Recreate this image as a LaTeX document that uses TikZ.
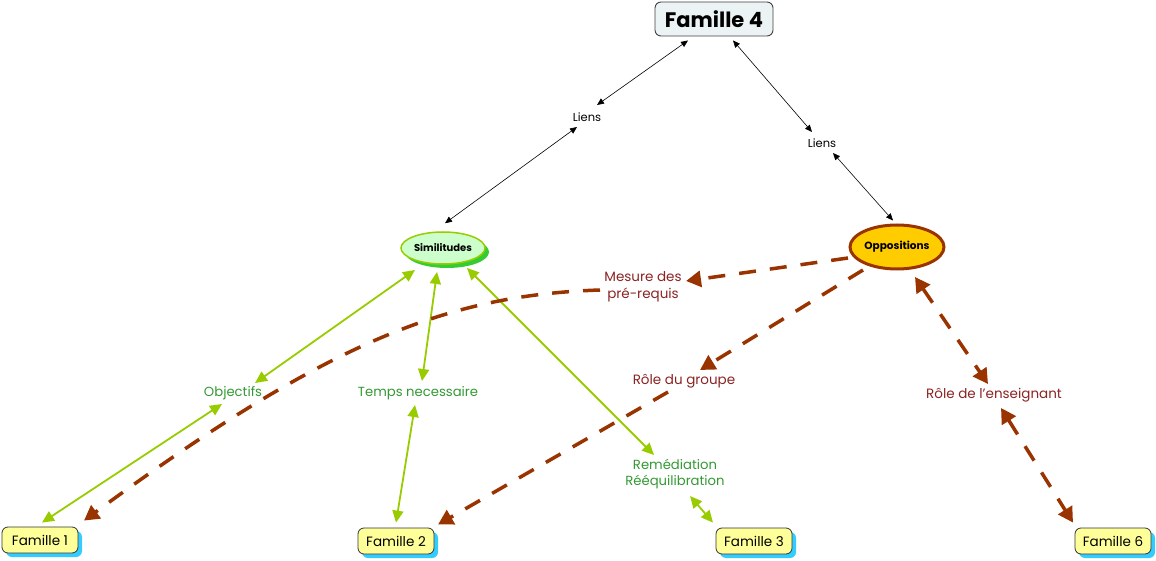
\documentclass[tikz,border=0pt]{standalone}
\usepackage{fontspec}
\setmainfont{Poppins}
\usetikzlibrary{arrows.meta,shapes.geometric,shadows,calc}
\definecolor{fgreen}{HTML}{99CC00}
\definecolor{tgreen}{HTML}{339933}
\definecolor{bline}{HTML}{993300}
\definecolor{btext}{HTML}{8B2323}
\definecolor{fyellow}{HTML}{FFFF99}
\definecolor{fshadow}{HTML}{33CCFF}
\tikzset{
  fambox/.style={draw=black!80, line width=0.8pt, rounded corners=6pt, fill=fyellow,
    minimum width=76pt, minimum height=26pt, inner sep=0pt, font=\fontsize{13.5}{15}\selectfont,
    drop shadow={shadow xshift=4pt, shadow yshift=-4pt, fill=fshadow, opacity=1}},
  lbl/.style={font=\fontsize{11.5}{13}\selectfont, inner sep=1pt},
  glbl/.style={text=tgreen, font=\fontsize{13.2}{16}\selectfont, inner sep=1pt, align=center},
  blbl/.style={text=btext, font=\fontsize{13.5}{16.5}\selectfont, inner sep=1pt, align=center},
  blk/.style={black, line width=0.6pt, {Triangle[length=7pt,width=6pt]}-{Triangle[length=7pt,width=6pt]}},
  grn/.style={fgreen, line width=1.8pt, {Triangle[length=12pt,width=11pt]}-{Triangle[length=12pt,width=11pt]}},
  brn/.style={bline, line width=3.5pt, dash pattern=on 17pt off 14pt, -{Triangle[length=15pt,width=16pt]}},
  brn2/.style={bline, line width=3.5pt, dash pattern=on 17pt off 14pt, {Triangle[length=15pt,width=16pt]}-{Triangle[length=15pt,width=16pt]}},
}
\begin{document}
\begin{tikzpicture}[x=1pt,y=-1pt]
\useasboundingbox (0,0) rectangle (1156,561);
% main nodes
\node[draw=black!75, line width=0.9pt, rounded corners=6pt, fill={rgb,255:red,236;green,243;blue,245},
  minimum width=118pt, minimum height=34pt, inner sep=0pt, font=\bfseries\fontsize{21}{24}\selectfont] (f4) at (714,19) {Famille 4};
\node[lbl] (l1) at (587,117) {Liens};
\node[lbl] (l2) at (822,143) {Liens};
\node[ellipse, draw=fgreen, line width=1.5pt, fill={rgb,255:red,204;green,255;blue,204},
  minimum width=84pt, minimum height=32pt, inner sep=0pt, font=\bfseries\fontsize{10}{12}\selectfont,
  drop shadow={shadow xshift=4pt, shadow yshift=-4pt, fill={rgb,255:red,51;green,204;blue,51}, opacity=1}] (sim) at (443,248) {Similitudes};
\node[ellipse, draw=bline, line width=3pt, fill={rgb,255:red,255;green,204;blue,0},
  minimum width=94pt, minimum height=44pt, inner sep=0pt, font=\bfseries\fontsize{10.5}{12}\selectfont] (opp) at (897,247) {Oppositions};
\node[blbl] (mes) at (643,287) {Mesure des\\pré-requis};
\node[blbl] (rg) at (684,381) {Rôle du groupe};
\node[blbl] (re) at (994,395) {Rôle de l\symbol{39}enseignant};
\node[glbl] (obj) at (233,393) {Objectifs};
\node[glbl] (tps) at (418,393) {Temps necessaire};
\node[glbl] (rem) at (675,474) {Remédiation\\Rééquilibration};
\node[fambox] (f1) at (40,540) {Famille 1};
\node[fambox] (f2) at (396,541) {Famille 2};
\node[fambox] (f3) at (754,541) {Famille 3};
\node[fambox] (f6) at (1113,541) {Famille 6};
% black links
\draw[blk] ($(f4.south)+(-26,4)$) -- ($(l1)+(10,-12)$);
\draw[blk] ($(l1)+(-10,10)$) -- ($(sim.north)+(2,-8)$);
\draw[blk] ($(f4.south)+(19,4)$) -- ($(l2)+(-10,-11)$);
\draw[blk] ($(l2)+(11,10)$) -- ($(opp.north)+(-4,-3)$);
% green links
\draw[grn] ($(sim)+(-28,22)$) -- ($(obj)+(22,-10)$);
\draw[grn] ($(obj)+(-11,11)$) -- ($(f1.north)+(2,-4)$);
\draw[grn] ($(sim)+(-6,24)$) -- ($(tps)+(4,-12)$);
\draw[grn] ($(tps)+(-3,12)$) -- ($(f2.north)+(0,-5)$);
\draw[grn] ($(sim)+(24,20)$) -- ($(rem)+(-21,-19)$);
\draw[grn] ($(rem)+(15,22)$) -- ($(f3.north)+(-41,-5)$);
% brown dashed
\draw[brn] ($(opp)+(-49,11)$) -- ($(mes)+(43,-6)$);
\draw[brn] ($(mes)+(-43,3)$) .. controls (450,295) and (330,340) .. ($(f1.north)+(44,-6)$);
\draw[brn] ($(opp)+(-34,23)$) -- ($(rg)+(16,-11)$);
\draw[brn] ($(rg)+(-16,11)$) -- ($(f2.north)+(42,-3)$);
\draw[brn2] ($(opp)+(18,30)$) -- ($(re)+(-6,-11)$);
\draw[brn2] ($(re)+(7,13)$) -- ($(f6.north)+(-40,-5)$);
\end{tikzpicture}
\end{document}
